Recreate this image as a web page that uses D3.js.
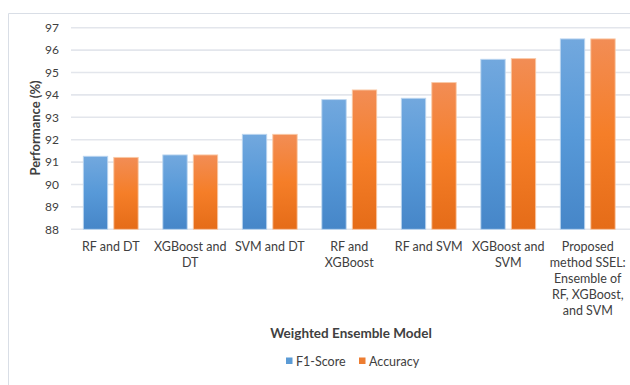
<!DOCTYPE html>
<html>
<head>
<meta charset="utf-8">
<script src="https://cdn.jsdelivr.net/npm/d3@7"></script>
<style>
  html, body { margin: 0; padding: 0; background: #ffffff; }
  svg { display: block; }
  text { font-family: Lato, "Open Sans", sans-serif; fill: #404040; }
</style>
</head>
<body>
<svg id="chart" width="630" height="385"></svg>
<script>
// Weighted ensemble models (x-axis categories), each label split into display lines
const categories = [
  "RF and DT",
  "XGBoost and DT",
  "SVM and DT",
  "RF and XGBoost",
  "RF and SVM",
  "XGBoost and SVM",
  "Proposed method SSEL: Ensemble of RF, XGBoost, and SVM"
];
const categoryLines = [
  ["RF and DT"],
  ["XGBoost and", "DT"],
  ["SVM and DT"],
  ["RF and", "XGBoost"],
  ["RF and SVM"],
  ["XGBoost and", "SVM"],
  ["Proposed", "method SSEL:", "Ensemble of", "RF, XGBoost,", "and SVM"]
];
const seriesNames = ["F1-Score", "Accuracy"];
const f1Score  = [91.26, 91.32, 92.24, 93.79, 93.85, 95.59, 96.50];
const accuracy = [91.21, 91.32, 92.24, 94.22, 94.55, 95.62, 96.50];
const yTicks = [88, 89, 90, 91, 92, 93, 94, 95, 96, 97];

const svg = d3.select("#chart");

// Gradients for the two series
const defs = svg.append("defs");
const gradStops = {
  "F1-Score": ["#72a8de", "#5799d8", "#4686c8"],
  "Accuracy": ["#f28d55", "#f57e28", "#e56c18"]
};
const gradId = name => "grad-" + name.replace(/[^A-Za-z0-9]/g, "");
seriesNames.forEach(name => {
  const g = defs.append("linearGradient")
    .attr("id", gradId(name))
    .attr("x1", 0).attr("y1", 0).attr("x2", 0).attr("y2", 1);
  const c = gradStops[name];
  g.append("stop").attr("offset", "0%").attr("stop-color", c[0]);
  g.append("stop").attr("offset", "50%").attr("stop-color", c[1]);
  g.append("stop").attr("offset", "100%").attr("stop-color", c[2]);
});
const outline = { "F1-Score": "#bcd6f0", "Accuracy": "#f9c9a6" };
const legendFill = { "F1-Score": "#5b9bd5", "Accuracy": "#ed7d31" };

// Chart area frame (left and top edges visible)
svg.append("path")
  .attr("d", "M8.5,385 V13.5 H630")
  .attr("fill", "none")
  .attr("stroke", "#d9dee6")
  .attr("stroke-width", 1);

const plotLeft = 71, plotRight = 627.5, plotTop = 27.7, plotBottom = 229.3;

const x0 = d3.scaleBand()
  .domain(categories)
  .range([plotLeft, plotRight])
  .paddingInner(0.31)
  .paddingOuter(0.155);

const x1 = d3.scaleBand()
  .domain(seriesNames)
  .range([0, x0.bandwidth()])
  .paddingInner(0.2);

const y = d3.scaleLinear()
  .domain([88, 97])
  .range([plotBottom, plotTop]);

// Horizontal gridlines
svg.append("g")
  .selectAll("line")
  .data(yTicks)
  .join("line")
  .attr("x1", plotLeft)
  .attr("x2", 630)
  .attr("y1", d => y(d))
  .attr("y2", d => y(d))
  .attr("stroke", "#e3e6ec")
  .attr("stroke-width", 1.6);

// Y axis tick labels
const yAxis = d3.axisLeft(y).tickValues(yTicks).tickSize(0).tickPadding(0);
const yg = svg.append("g")
  .attr("transform", `translate(${59},0)`)
  .call(yAxis);
yg.select(".domain").remove();
yg.selectAll("text")
  .attr("font-family", "Lato, sans-serif")
  .attr("font-size", 12)
  .attr("fill", "#404040");

// Bars
const rows = categories.map((c, i) => ({
  category: c,
  values: [
    { series: "F1-Score", value: f1Score[i] },
    { series: "Accuracy", value: accuracy[i] }
  ]
}));

const groups = svg.append("g")
  .selectAll("g")
  .data(rows)
  .join("g")
  .attr("transform", d => `translate(${x0(d.category)},0)`);

groups.selectAll("rect")
  .data(d => d.values)
  .join("rect")
  .attr("x", d => x1(d.series))
  .attr("y", d => y(d.value))
  .attr("width", x1.bandwidth())
  .attr("height", d => y(88) - y(d.value))
  .attr("fill", d => `url(#${gradId(d.series)})`)
  .attr("stroke", d => outline[d.series])
  .attr("stroke-width", 0.9);

// Category labels (multi-line)
const lineGap = 16.2;
svg.append("g")
  .selectAll("text")
  .data(categories)
  .join("text")
  .attr("text-anchor", "middle")
  .attr("font-size", 12.5)
  .attr("fill", "#404040")
  .attr("transform", d => `translate(${x0(d) + x0.bandwidth() / 2},${250.5})`)
  .each(function(d, i) {
    d3.select(this).selectAll("tspan")
      .data(categoryLines[i])
      .join("tspan")
      .attr("x", 0)
      .attr("y", (t, j) => j * lineGap)
      .text(t => t);
  });

// Axis titles
svg.append("text")
  .attr("x", 351)
  .attr("y", 337.5)
  .attr("text-anchor", "middle")
  .attr("font-size", 13.5)
  .attr("font-weight", "bold")
  .attr("fill", "#404040")
  .text("Weighted Ensemble Model");

svg.append("text")
  .attr("transform", "translate(40,128) rotate(-90)")
  .attr("text-anchor", "middle")
  .attr("font-size", 13)
  .attr("font-weight", "bold")
  .attr("fill", "#404040")
  .text("Performance (%)");

// Legend
const legendItems = [
  { name: "F1-Score", x: 286 },
  { name: "Accuracy", x: 359 }
];
const legend = svg.append("g");
legendItems.forEach(item => {
  legend.append("rect")
    .attr("x", item.x)
    .attr("y", 357.5)
    .attr("width", 6.5)
    .attr("height", 6.5)
    .attr("fill", legendFill[item.name]);
  legend.append("text")
    .attr("x", item.x + 10)
    .attr("y", 365.5)
    .attr("font-size", 12.5)
    .attr("fill", "#404040")
    .text(item.name);
});
</script>
</body>
</html>
